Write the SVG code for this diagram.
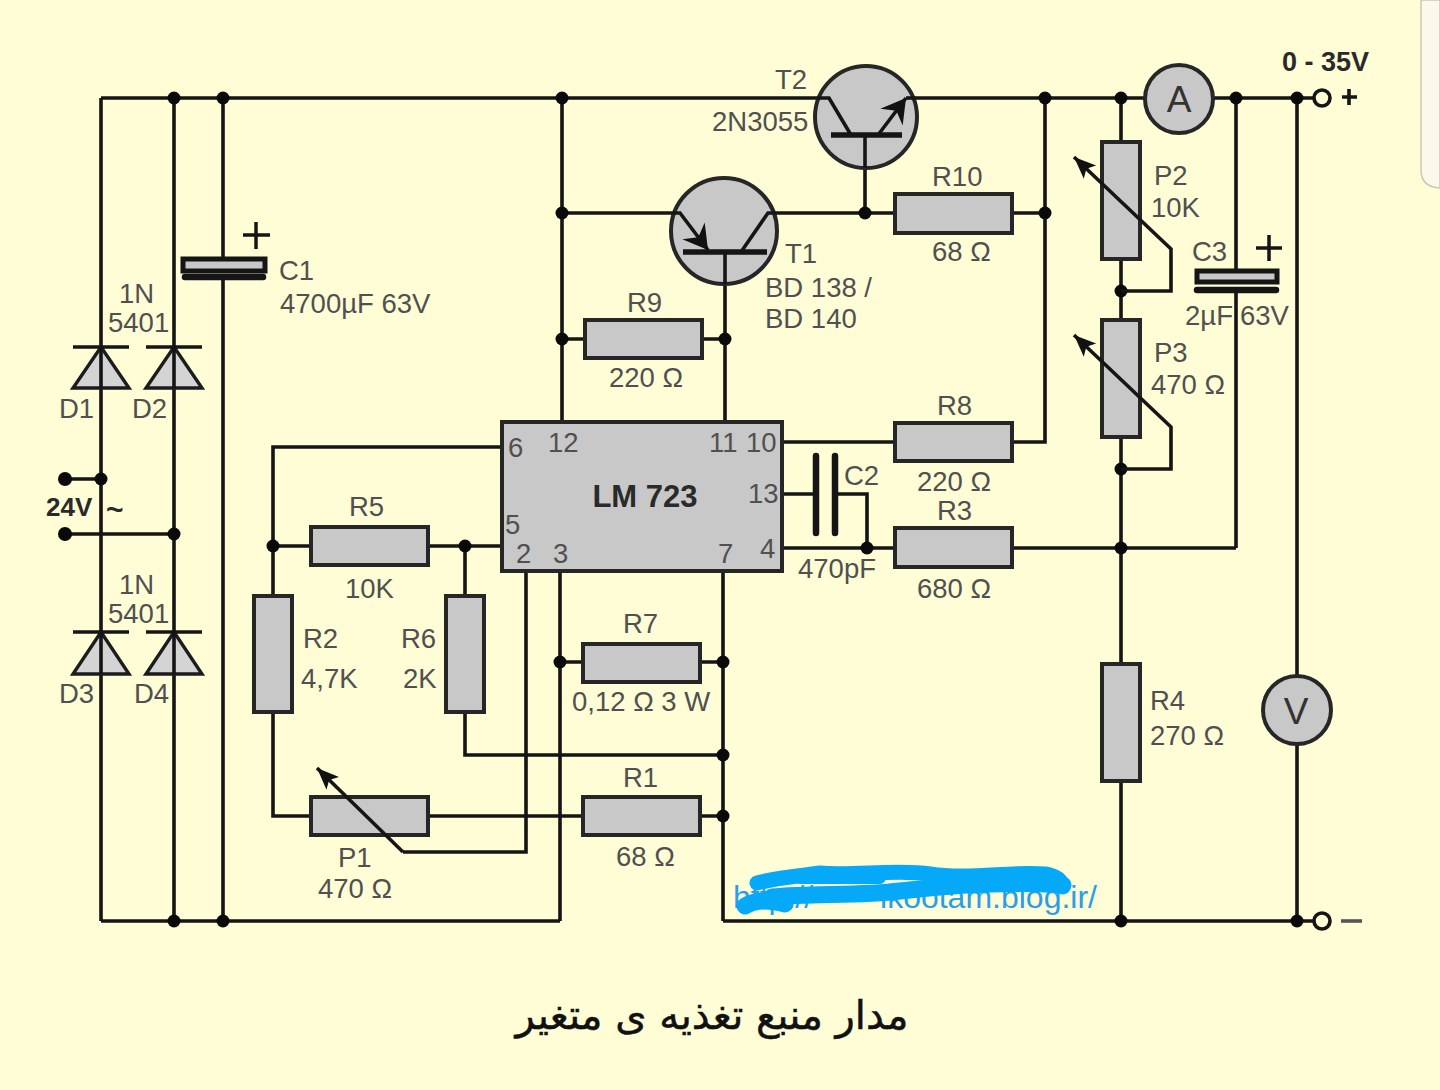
<svg xmlns="http://www.w3.org/2000/svg" width="1440" height="1090" viewBox="0 0 1440 1090">
<style>
.w{fill:none;stroke:#151515;stroke-width:3.6;stroke-linejoin:miter}
.c{fill:#c8c8c8;stroke:#262626;stroke-width:4}
.d{fill:#d4d4d4;stroke:#1c1c1c;stroke-width:3.4;stroke-linejoin:miter}
.p{fill:none;stroke:#151515;stroke-width:6.5;stroke-linecap:round}
.o{fill:none;stroke:#151515;stroke-width:3.6}
.j{fill:#0a0a0a}
text{font-family:"Liberation Sans",Arial,sans-serif;font-size:27.5px;fill:#505050}
.b{font-weight:700;fill:#2a2a2a}
</style>
<defs>
<marker id="wa" markerUnits="userSpaceOnUse" markerWidth="24" markerHeight="22" refX="22" refY="11" orient="auto"><path d="M0 2 L22 11 L0 20 L5 11Z" fill="#111"/></marker>
<marker id="ta" markerUnits="userSpaceOnUse" markerWidth="28" markerHeight="28" refX="26" refY="14" orient="auto"><path d="M2 0 L26 14 L2 28 L10 14Z" fill="#111"/></marker>
</defs>
<rect width="1440" height="1090" fill="#fffdd6"/>
<path d="M1421 0V170Q1421 187 1440 188V0Z" fill="#fbf9ec" stroke="#c9c7b8" stroke-width="1.5"/>
<g id="connectors">
<path class="w" d="M101 98H815M917 98H1145M1213 98H1314"/>
<path class="w" d="M101 921H560M723 921H1314"/>
<path class="w" d="M101 98V921M174 98V921M223 98V259M223 277V921"/>
<path class="w" d="M65 479H101M65 534H174"/>
<path class="w" d="M562 98V421M562 213H670M778 213H895M1012 213H1045M1045 98V442H1012M782 442H895"/>
<path class="w" d="M865 135V213M725 252V421M562 339H585M702 339H725"/>
<path class="w" d="M501 447H273V596M273 712V816H311M428 816H583M700 816H723"/>
<path class="w" d="M273 546H311M428 546H501M465 546V596M465 712V755H723"/>
<path class="w" d="M526 571V852H403"/>
<path class="w" d="M560 571V921M560 662H583M700 662H723M723 571V921"/>
<path class="w" d="M782 494H817M836 494H867V548M782 548H895M1012 548H1236M1236 98V270M1236 290V548"/>
<path class="w" d="M1121 98V142M1121 259V320M1121 437V664M1121 781V921"/>
<path class="w" d="M1297 98V676M1297 744V921"/>
<g class="j">
<circle cx="174" cy="98" r="6.5"/><circle cx="223" cy="98" r="6.5"/><circle cx="562" cy="98" r="6.5"/><circle cx="1045" cy="98" r="6.5"/><circle cx="1121" cy="98" r="6.5"/><circle cx="1236" cy="98" r="6.5"/><circle cx="1297" cy="98" r="6.5"/>
<circle cx="562" cy="213" r="6.5"/><circle cx="865" cy="213" r="6.5"/><circle cx="1045" cy="213" r="6.5"/>
<circle cx="562" cy="339" r="6.5"/><circle cx="725" cy="339" r="6.5"/>
<circle cx="65" cy="479" r="7"/><circle cx="101" cy="479" r="6.5"/><circle cx="65" cy="534" r="7"/><circle cx="174" cy="534" r="6.5"/>
<circle cx="273" cy="546" r="6.5"/><circle cx="465" cy="546" r="6.5"/><circle cx="867" cy="548" r="6.5"/><circle cx="1121" cy="548" r="6.5"/>
<circle cx="1121" cy="291" r="6.5"/><circle cx="1121" cy="469" r="6.5"/>
<circle cx="560" cy="662" r="6.5"/><circle cx="723" cy="662" r="6.5"/><circle cx="723" cy="755" r="6.5"/><circle cx="723" cy="816" r="6.5"/>
<circle cx="174" cy="921" r="6.5"/><circle cx="223" cy="921" r="6.5"/><circle cx="1121" cy="921" r="6.5"/><circle cx="1297" cy="921" r="6.5"/>
</g>
</g>
<g id="D1"><path class="d" d="M73 388H129L101 347Z"/><path class="w" d="M73 347H129M101 347V388"/><text x="59" y="418">D1</text></g>
<g id="D2"><path class="d" d="M146 388H202L174 347Z"/><path class="w" d="M146 347H202M174 347V388"/><text x="132" y="418">D2</text></g>
<g id="D3"><path class="d" d="M73 674H129L101 632Z"/><path class="w" d="M73 632H129M101 632V674"/><text x="59" y="703">D3</text></g>
<g id="D4"><path class="d" d="M146 674H202L174 632Z"/><path class="w" d="M146 632H202M174 632V674"/><text x="134" y="703">D4</text></g>
<g id="D-labels"><text x="119" y="303">1N</text><text x="108" y="332">5401</text><text x="119" y="594">1N</text><text x="108" y="623">5401</text></g>
<g id="input"><text class="b" x="46" y="516" style="font-size:26px">24V</text><text class="b" x="106" y="520" style="font-size:30px">~</text></g>
<g id="C1"><rect x="183" y="259" width="82" height="12" fill="#c8c8c8" stroke="#151515" stroke-width="5"/><path class="p" d="M185 277H263"/><path class="o" d="M243 235H270M256 222V249" style="stroke-width:3.5"/><text x="279" y="280">C1</text><text x="280" y="313">4700µF 63V</text></g>
<g id="IC"><rect class="c" x="502" y="422" width="280" height="149"/>
<text x="508" y="457">6</text><text x="548" y="452">12</text><text x="709" y="452">11</text><text x="746" y="452">10</text><text x="748" y="503">13</text><text x="505" y="534">5</text><text x="516" y="563">2</text><text x="553" y="563">3</text><text x="718" y="563">7</text><text x="760" y="558">4</text>
<text class="b" x="645" y="507" text-anchor="middle" style="font-size:31px">LM 723</text></g>
<g id="T2"><circle class="c" cx="866" cy="117" r="51"/><path class="w" d="M815 98H829L851 135M878 135L906 98" marker-end="url(#ta)"/><path class="w" d="M906 98H917"/><path class="w" d="M831 135H902" style="stroke-width:5.5"/><path class="w" d="M865 135V168"/><text x="775" y="89">T2</text><text x="712" y="131">2N3055</text></g>
<g id="T1"><circle class="c" cx="724" cy="231" r="53"/><path class="w" d="M670 213H680L708 250" marker-end="url(#ta)"/><path class="w" d="M741 252L768 213H778"/><path class="w" d="M683 252H767" style="stroke-width:5.5"/><path class="w" d="M725 252V284"/><text x="785" y="263">T1</text><text x="765" y="297">BD 138 /</text><text x="765" y="328">BD 140</text></g>
<g id="R10"><rect class="c" x="895" y="194" width="117" height="39"/><text x="932" y="186">R10</text><text x="932" y="261">68 Ω</text></g>
<g id="R9"><rect class="c" x="585" y="320" width="117" height="38"/><text x="627" y="312">R9</text><text x="609" y="387">220 Ω</text></g>
<g id="R8"><rect class="c" x="895" y="423" width="117" height="38"/><text x="937" y="415">R8</text><text x="917" y="491">220 Ω</text></g>
<g id="R3"><rect class="c" x="895" y="528" width="117" height="39"/><text x="937" y="520">R3</text><text x="917" y="598">680 Ω</text></g>
<g id="C2"><path class="p" d="M816 456V533M835 456V533"/><text x="844" y="485">C2</text><text x="798" y="578">470pF</text></g>
<g id="R5"><rect class="c" x="311" y="527" width="117" height="38"/><text x="349" y="516">R5</text><text x="345" y="598">10K</text></g>
<g id="R2"><rect class="c" x="254" y="596" width="38" height="116"/><text x="303" y="648">R2</text><text x="301" y="688">4,7K</text></g>
<g id="R6"><rect class="c" x="446" y="596" width="38" height="116"/><text x="401" y="648">R6</text><text x="403" y="688">2K</text></g>
<g id="R7"><rect class="c" x="583" y="644" width="117" height="38"/><text x="623" y="633">R7</text><text x="572" y="711">0,12 Ω  3 W</text></g>
<g id="R1"><rect class="c" x="583" y="797" width="117" height="38"/><text x="623" y="787">R1</text><text x="616" y="866">68 Ω</text></g>
<g id="P1"><rect class="c" x="311" y="797" width="117" height="38"/><path class="w" d="M403 852L317 768" marker-end="url(#wa)"/><text x="338" y="867">P1</text><text x="318" y="898">470 Ω</text></g>
<g id="P2"><rect class="c" x="1102" y="142" width="38" height="117"/><path class="w" d="M1121 291H1171V249L1074 157" marker-end="url(#wa)"/><text x="1154" y="185">P2</text><text x="1151" y="217">10K</text></g>
<g id="P3"><rect class="c" x="1102" y="320" width="38" height="117"/><path class="w" d="M1121 469H1171V427L1074 335" marker-end="url(#wa)"/><text x="1154" y="362">P3</text><text x="1151" y="394">470 Ω</text></g>
<g id="C3"><rect x="1197" y="271" width="80" height="11" fill="#c8c8c8" stroke="#151515" stroke-width="5"/><path class="p" d="M1197 290H1276"/><path class="o" d="M1256 248H1282M1269 235V261" style="stroke-width:3.5"/><text x="1192" y="261">C3</text><text x="1185" y="325">2µF</text><text x="1240" y="325">63V</text></g>
<g id="R4"><rect class="c" x="1102" y="664" width="38" height="117"/><text x="1150" y="710">R4</text><text x="1150" y="745">270 Ω</text></g>
<g id="A"><circle class="c" cx="1179" cy="99" r="34"/><text x="1179" y="112" text-anchor="middle" style="font-size:37px;fill:#333">A</text></g>
<g id="V"><circle class="c" cx="1297" cy="710" r="34"/><text x="1296" y="724" text-anchor="middle" style="font-size:37px;fill:#333">V</text></g>
<g id="out-plus"><circle cx="1322" cy="98" r="8" fill="#fffdd6" stroke="#151515" stroke-width="3.6"/><text class="b" x="1282" y="71" style="font-size:27px">0 - 35V</text><path class="o" d="M1342 97H1357M1349 89V105"/></g>
<g id="out-minus"><circle cx="1322" cy="921" r="8" fill="#fffdd6" stroke="#151515" stroke-width="3.6"/><path class="o" d="M1341 921H1362" style="stroke:#555"/></g>
<g id="url"><text x="733" y="908" style="font-size:32px;fill:#2a9ee8">http://</text><text x="1097" y="908" text-anchor="end" style="font-size:32px;fill:#2a9ee8">ikootam.blog.ir/</text>
<g fill="none" stroke="#06a8f8" stroke-linecap="round" stroke-linejoin="round">
<path d="M757 883C775 878 800 876 820 873C850 876 900 869 930 874C970 880 1010 871 1045 874C1058 876 1062 882 1063 887" stroke-width="15"/>
<path d="M1063 885C1020 882 960 884 900 891C860 896 810 893 772 897" stroke-width="17"/>
<path d="M745 906C755 900 770 900 785 904" stroke-width="17"/>
<path d="M800 878H880M960 880H1060" stroke-width="12"/>
</g></g>
<g id="caption"><text x="712" y="1029" direction="rtl" text-anchor="middle" style="font-family:'DejaVu Sans',sans-serif;font-size:40px;fill:#111;stroke:#111;stroke-width:0.5">مدار منبع تغذیه ی متغیر</text></g>
</svg>
